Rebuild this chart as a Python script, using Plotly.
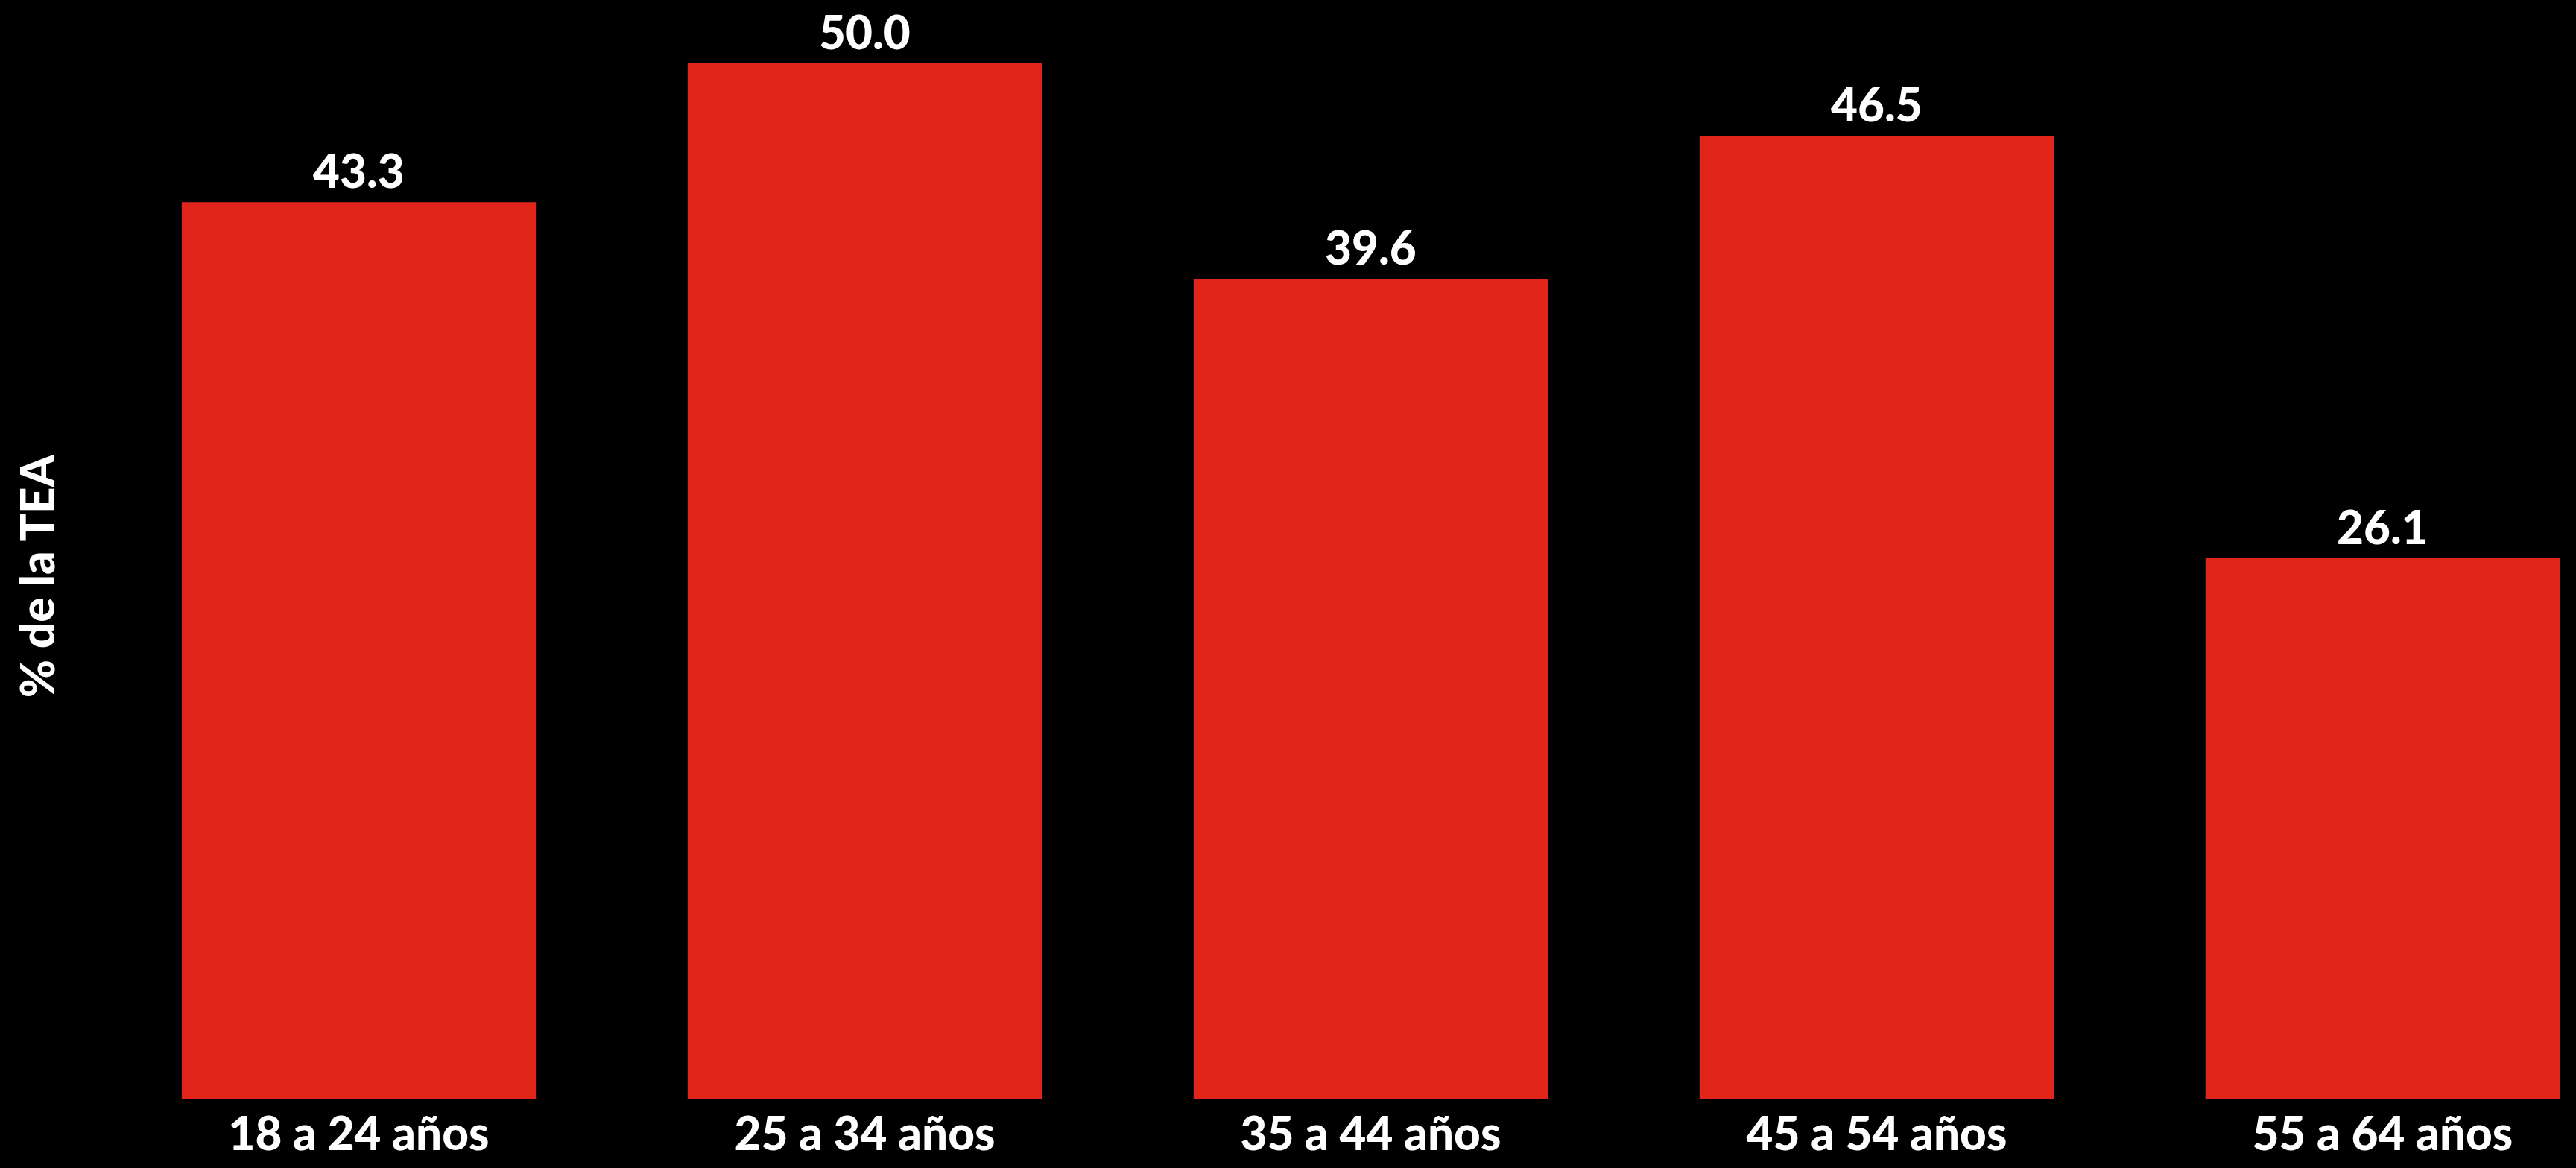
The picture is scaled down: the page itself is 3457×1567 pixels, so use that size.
import plotly.graph_objects as go

categories = ["18 a 24 años", "25 a 34 años", "35 a 44 años", "45 a 54 años", "55 a 64 años"]
values = [43.3, 50.0, 39.6, 46.5, 26.1]
value_labels = ["43.3", "50.0", "39.6", "46.5", "26.1"]
y_title = "% de la TEA"

W, H = 3457, 1567
FONT = "Lato"
BAR = "#E1251B"
FS = 62

fig = go.Figure()
fig.add_trace(go.Bar(
    x=list(range(len(categories))), y=values,
    marker=dict(color=BAR, line=dict(width=0)),
    width=0.7, hoverinfo="skip",
))

for i, (v, t) in enumerate(zip(values, value_labels)):
    fig.add_annotation(x=i, y=v, text=t, showarrow=False, xanchor="center",
                       yanchor="bottom", yshift=4,
                       font=dict(family=FONT, size=FS, color="white", weight=900))

fig.add_annotation(xref="paper", yref="paper", x=-0.028, y=0.476, text=y_title,
                   textangle=-90, showarrow=False, xanchor="center", yanchor="middle",
                   font=dict(family=FONT, size=FS, color="white", weight=900))

fig.update_layout(
    width=W, height=H,
    paper_bgcolor="black", plot_bgcolor="black",
    margin=dict(l=142, r=22, t=0, b=93),
    showlegend=False,
    xaxis=dict(range=[-0.5, 4.35], tickmode="array", tickvals=list(range(len(categories))),
               ticktext=categories, showgrid=False, zeroline=False, showline=False, ticks="",
               ticklabelstandoff=6,
               tickfont=dict(family=FONT, size=FS, color="white", weight=900),
               fixedrange=True),
    yaxis=dict(range=[0, 53.06], showgrid=False, zeroline=False, showline=False,
               showticklabels=False, ticks="", fixedrange=True),
)

fig.write_html("out.html", config={"displayModeBar": False},
               post_script="document.body.style.margin='0';document.body.style.background='black';")
